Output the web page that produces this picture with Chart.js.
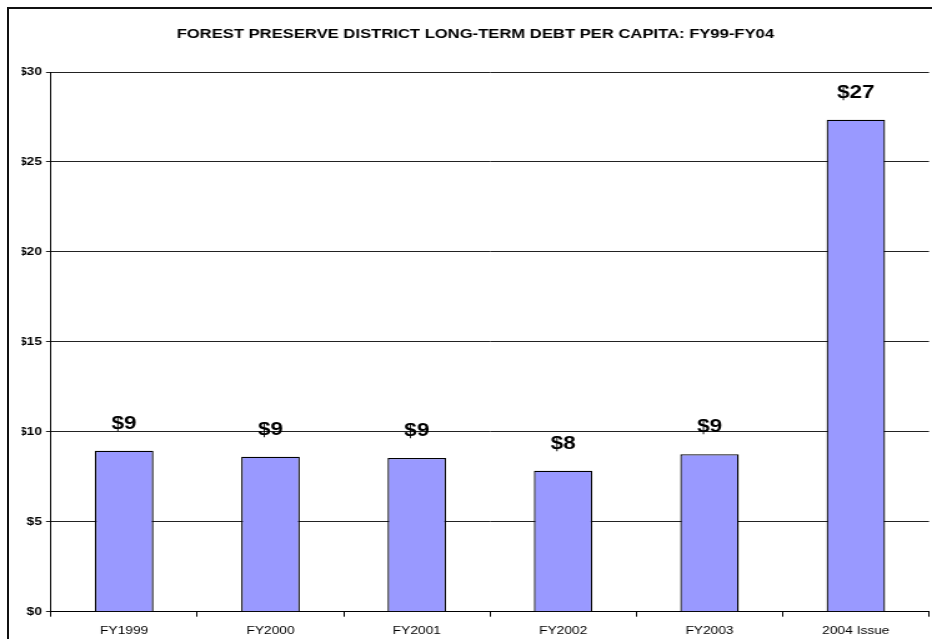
<!DOCTYPE html>
<html>
<head>
<meta charset="utf-8">
<script src="https://cdn.jsdelivr.net/npm/chart.js@4/dist/chart.umd.min.js"></script>
<style>
  html, body { margin: 0; padding: 0; background: #fff; overflow: hidden; }
  #wrap { position: relative; width: 932px; height: 639px; }
  #frame { position: absolute; left: 7px; top: 7px; width: 1000px; height: 1000px;
           border-left: 2px solid #111; border-top: 2px solid #111; pointer-events: none; }
</style>
</head>
<body>
<div id="wrap">
  <!-- chart is laid out on a narrower canvas and shown stretched to the page width -->
  <canvas id="c" width="746" height="639" style="display:block;width:932px;height:639px"></canvas>
  <div id="frame"></div>
</div>
<script>
// Long-term debt per capita, by fiscal year
const categories = ['FY1999', 'FY2000', 'FY2001', 'FY2002', 'FY2003', '2004 Issue'];
const debtPerCapita = [8.95, 8.62, 8.55, 7.84, 8.75, 27.35];
const yTickValues = [0, 5, 10, 15, 20, 25, 30];
const chartTitle = 'FOREST PRESERVE DISTRICT LONG-TERM DEBT PER CAPITA: FY99-FY04';

const FONT = "'Liberation Sans', Arial, Helvetica, sans-serif";
Chart.defaults.font.family = FONT;
Chart.defaults.color = '#000';

// dollar labels above each bar
const barValueLabels = {
  id: 'barValueLabels',
  afterDatasetsDraw(chart) {
    const ctx = chart.ctx;
    const meta = chart.getDatasetMeta(0);
    const values = chart.data.datasets[0].data;
    ctx.save();
    ctx.font = 'bold 18px ' + FONT;
    ctx.fillStyle = '#000';
    ctx.textAlign = 'center';
    ctx.textBaseline = 'alphabetic';
    meta.data.forEach((bar, i) => {
      ctx.fillText('$' + Math.round(values[i]), bar.x, bar.y - 22);
    });
    ctx.restore();
  }
};

const canvas = document.getElementById('c');
new Chart(canvas, {
  type: 'bar',
  data: {
    labels: categories,
    datasets: [{
      data: debtPerCapita,
      backgroundColor: '#9999FF',
      borderColor: '#000',
      borderWidth: 1.3,
      categoryPercentage: 1.0,
      barPercentage: 0.4
    }]
  },
  options: {
    responsive: false,
    devicePixelRatio: 1,
    animation: false,
    layout: { padding: { top: 10, left: 17.4, right: 2.4, bottom: 0 } },
    plugins: {
      legend: { display: false },
      tooltip: { enabled: false },
      title: {
        display: true,
        text: chartTitle,
        color: '#000',
        font: { size: 13.3, weight: 'bold', family: FONT, lineHeight: 1.2 },
        padding: { top: 16, bottom: 30.04 }
      }
    },
    scales: {
      x: {
        grid: {
          display: true,
          drawOnChartArea: false,
          drawTicks: true,
          tickLength: 5,
          color: '#000',
          offset: true
        },
        border: { display: true, color: '#000', width: 1 },
        ticks: {
          color: '#000',
          font: { size: 11, family: FONT },
          padding: 7.4,
          maxRotation: 0,
          autoSkip: false
        },
        afterFit(scale) { scale.height = 27.3; }
      },
      y: {
        min: yTickValues[0],
        max: yTickValues[yTickValues.length - 1],
        afterBuildTicks(scale) { scale.ticks = yTickValues.map(v => ({ value: v })); },
        grid: {
          color: '#222',
          lineWidth: 1,
          drawTicks: true,
          tickLength: 4
        },
        border: { display: true, color: '#000', width: 1 },
        ticks: {
          color: '#000',
          font: { size: 11, weight: 'bold', family: FONT },
          padding: 3.2,
          callback: v => '$' + v
        },
        afterFit(scale) { scale.width = 23.4; }
      }
    }
  },
  plugins: [barValueLabels]
});
canvas.style.width = '932px';
canvas.style.height = '639px';
</script>
</body>
</html>
